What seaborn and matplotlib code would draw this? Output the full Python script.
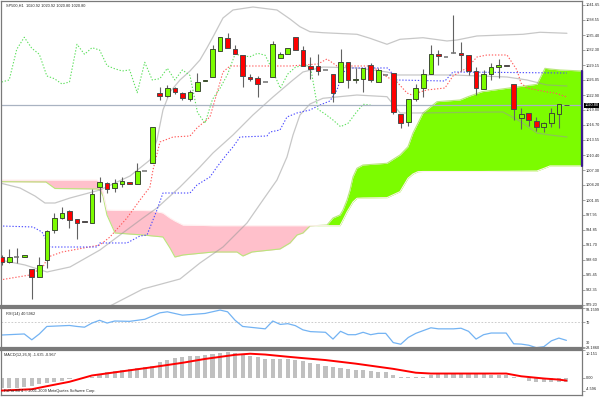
import numpy as np
import matplotlib
matplotlib.use("Agg")
import matplotlib.pyplot as plt
import matplotlib.transforms as mtrans
from matplotlib import font_manager
import seaborn as sns

# ---------------- data ----------------
opens = [989.26, 988.22, 989.13, 989.19, 986.63, 985.09, 988.57, 994.81, 997.25, 998.77,
         997.04, 996.69, 996.21, 1003.83, 1004.66, 1003.49, 1004.33, 1004.74, 1004.33, 1007.16,
         1008.82, 1023.27, 1022.77, 1024.31, 1023.39, 1022.08, 1023.69, 1025.77, 1026.60, 1032.14,
         1034.72, 1032.43, 1031.24, 1026.72, 1026.39, 1025.62, 1026.72, 1030.55, 1031.39, 1035.05,
         1032.28, 1028.95, 1028.95, 1028.12, 1027.29, 1025.56, 1029.72, 1026.04, 1026.18, 1029.10,
         1025.56, 1027.00, 1027.43, 1018.90, 1017.23, 1022.02, 1024.31, 1027.22, 1031.45, 1030.89,
         1031.60, 1031.72, 1031.24, 1027.97, 1024.10, 1027.29, 1028.68, 1029.16, 1025.14, 1018.07,
         1019.23, 1017.44, 1016.32, 1017.02, 1018.90, 1020.92]
highs = [989.61, 990.80, 991.00, 989.70, 986.63, 989.26, 994.81, 998.35, 999.54, 999.00,
         997.04, 996.70, 1003.29, 1005.78, 1004.80, 1005.43, 1005.78, 1004.80, 1008.70, 1007.16,
         1016.19, 1024.52, 1025.00, 1024.52, 1023.50, 1023.96, 1027.56, 1026.04, 1033.32, 1034.93,
         1035.88, 1033.32, 1031.24, 1027.29, 1026.87, 1025.62, 1034.16, 1031.93, 1032.76, 1035.05,
         1033.12, 1030.76, 1031.45, 1028.12, 1027.29, 1032.43, 1029.72, 1028.47, 1028.47, 1029.51,
         1028.50, 1027.00, 1027.43, 1018.90, 1022.02, 1025.21, 1028.27, 1033.32, 1032.28, 1030.89,
         1039.57, 1033.89, 1031.30, 1028.81, 1028.12, 1029.51, 1030.35, 1029.16, 1025.14, 1020.27,
         1019.23, 1018.40, 1017.36, 1020.15, 1020.98, 1020.92]
lows = [987.53, 988.01, 987.88, 989.10, 980.45, 985.00, 986.84, 994.19, 997.10, 995.17,
        992.94, 996.40, 996.21, 1000.70, 1002.58, 1002.79, 1003.83, 1004.30, 1004.33, 1007.16,
        1008.82, 1021.88, 1022.56, 1023.12, 1021.88, 1021.73, 1023.69, 1025.77, 1026.60, 1032.14,
        1032.64, 1031.39, 1024.64, 1025.83, 1022.44, 1025.62, 1026.72, 1030.55, 1031.39, 1032.28,
        1029.01, 1026.18, 1027.08, 1028.12, 1021.52, 1025.56, 1024.31, 1025.35, 1023.48, 1025.68,
        1025.56, 1027.00, 1018.96, 1016.11, 1016.46, 1021.67, 1022.56, 1027.22, 1029.16, 1030.89,
        1031.60, 1027.91, 1027.08, 1022.92, 1024.10, 1026.04, 1026.39, 1028.89, 1017.71, 1015.78,
        1016.46, 1015.42, 1015.28, 1016.19, 1015.98, 1020.80]
closes = [988.22, 989.13, 989.13, 989.61, 985.09, 987.53, 994.61, 997.25, 998.29, 996.90,
          996.21, 996.42, 1002.25, 1004.74, 1003.29, 1004.53, 1005.01, 1004.39, 1007.10, 1007.16,
          1016.19, 1022.77, 1024.31, 1023.48, 1022.35, 1023.48, 1025.62, 1026.04, 1032.43, 1034.93,
          1032.64, 1031.39, 1026.87, 1026.31, 1025.21, 1025.62, 1033.47, 1031.39, 1032.76, 1032.28,
          1029.01, 1028.39, 1027.91, 1028.12, 1023.39, 1029.72, 1026.04, 1026.31, 1028.47, 1026.04,
          1028.12, 1027.00, 1019.31, 1017.02, 1022.02, 1024.31, 1027.22, 1031.45, 1031.03, 1030.89,
          1031.60, 1031.18, 1027.97, 1024.31, 1027.29, 1028.68, 1029.10, 1028.89, 1019.94, 1018.90,
          1017.71, 1016.32, 1017.02, 1019.11, 1020.98, 1020.80]

# Bollinger bands (vertices: bar position, price)
bb_up_x = [-0.23, 2.43, 4.42, 5.75, 7.08, 9.07, 13.05, 17.04, 19.69, 20.62, 21.42, 22.35, 23.68,
           25.01, 26.33, 27.26, 28.06, 29.39, 30.72, 33.37, 36.56, 38.29, 39.61, 40.94, 42.67,
           47.18, 48.91, 51.17, 52.90, 55.95, 59.14, 60.46, 63.12, 66.57, 69.23, 71.49, 75.07]
bb_up_y = [1004.60, 1003.56, 1001.89, 1000.43, 1000.43, 1001.47, 1003.14, 1006.05, 1009.38,
           1013.55, 1019.79, 1023.54, 1026.04, 1027.91, 1030.20, 1032.70, 1034.99, 1038.94,
           1040.61, 1041.23, 1040.61, 1038.73, 1037.13, 1036.09, 1035.88, 1035.55, 1034.72,
           1033.47, 1034.51, 1034.84, 1034.16, 1034.36, 1035.20, 1035.40, 1035.55, 1035.97, 1035.76]
bb_mid_x = [-0.23, 3.09, 6.02, 9.07, 13.05, 15.71, 18.76, 20.62, 23.68, 26.33, 28.06, 30.72,
            33.37, 36.03, 38.69, 40.01, 42.67, 47.18, 51.17, 52.50, 59.93, 67.11, 69.76, 72.42, 75.07]
bb_mid_y = [988.57, 987.53, 986.07, 987.11, 990.65, 993.77, 997.31, 999.39, 1003.76, 1007.93,
            1010.84, 1014.59, 1018.75, 1022.50, 1026.04, 1027.70, 1028.74, 1028.54, 1027.70,
            1027.08, 1027.08, 1026.66, 1026.04, 1025.00, 1024.79]
bb_low_x = [14.38, 18.76, 23.68, 26.33, 29.39, 32.58, 34.70, 36.56, 37.89, 38.69, 39.61, 40.94,
            42.67, 47.18, 51.17, 51.96, 52.90, 55.15, 66.57, 69.23, 71.09, 72.82, 75.07]
bb_low_y = [978.99, 982.53, 984.61, 987.94, 991.27, 996.27, 1001.06, 1005.22, 1010.01, 1014.59,
            1018.75, 1021.04, 1022.23, 1022.91, 1022.56, 1021.04, 1019.17, 1019.17, 1019.38,
            1017.09, 1015.00, 1014.59, 1014.17]

# Ichimoku lines
tenkan_x = [-0.23, 3.76, 5.48, 6.15, 8.01, 13.05, 14.38, 16.64, 18.37, 19.69, 20.09, 21.02, 22.75,
            25.01, 25.94, 27.66, 28.59, 29.39, 30.32, 38.29, 42.00, 43.20, 44.53, 48.91, 49.97,
            51.17, 52.50, 53.83, 54.49, 55.55, 56.48, 58.87, 59.93, 61.79, 63.12, 64.45, 67.11,
            68.43, 68.96, 69.76, 72.42, 73.48, 75.07]
tenkan_y = [984.41, 985.45, 987.11, 989.19, 990.23, 991.69, 993.36, 997.31, 1001.06, 1003.76,
            1007.30, 1013.13, 1014.17, 1014.38, 1016.05, 1018.34, 1023.33, 1027.70, 1028.95,
            1028.95, 1029.37, 1030.41, 1028.95, 1028.95, 1028.12, 1026.66, 1025.62, 1023.33,
            1022.91, 1023.54, 1023.96, 1024.37, 1026.87, 1028.54, 1030.82, 1031.24, 1031.24,
            1028.12, 1025.41, 1024.37, 1023.54, 1023.33, 1022.50]
kijun_x = [-0.23, 4.16, 5.35, 6.41, 12.66, 13.05, 16.64, 18.37, 19.30, 20.62, 21.42, 25.01, 25.94,
           27.66, 28.59, 29.92, 30.72, 31.65, 35.23, 35.63, 36.96, 37.89, 39.22, 40.94, 42.27,
           43.60, 44.53, 45.33, 46.65, 51.30, 52.50, 58.87, 59.93, 75.07]
kijun_y = [995.65, 995.44, 994.40, 991.27, 991.27, 992.11, 992.11, 993.56, 993.77, 998.98,
           1002.51, 1002.51, 1004.18, 1005.85, 1007.93, 1010.63, 1012.09, 1014.17, 1014.38,
           1015.21, 1015.63, 1018.34, 1019.17, 1019.79, 1020.83, 1021.67, 1023.96, 1027.70,
           1028.54, 1028.54, 1026.04, 1025.83, 1027.70, 1027.49]
chikou_shift = 26

cloud_x = [-0.23, 5.88, 7.08, 12.66, 13.05, 13.45, 13.98, 15.05, 18.76, 20.09, 21.42, 22.35,
           23.01, 24.08, 28.06, 31.25, 32.04, 33.24, 36.96, 38.29, 39.22, 40.01, 40.94, 43.20,
           44.00, 44.93, 45.33, 45.86, 46.26, 46.65, 47.18, 47.98, 51.17, 52.90, 53.96, 54.62,
           55.29, 55.95, 57.81, 60.86, 61.93, 63.79, 67.11, 71.09, 72.15, 72.82, 74.15, 77.07]
span_a = [1004.87, 1004.80, 1003.45, 1003.35, 1003.14, 1001.89, 997.94, 994.19, 993.77, 993.56,
          993.36, 991.07, 989.19, 989.61, 990.23, 990.23, 989.40, 990.23, 990.86, 992.11,
          993.77, 994.19, 995.65, 995.85, 997.31, 997.94, 998.98, 1001.06, 1003.14, 1005.85,
          1007.66, 1008.34, 1008.70, 1010.43, 1012.15, 1015.00, 1017.09, 1019.17, 1021.52,
          1021.87, 1022.56, 1023.60, 1024.31, 1025.14, 1028.47, 1028.33, 1028.12, 1027.91]
span_b = [1005.22, 1005.22, 1005.22, 1005.22, 1004.80, 1002.72, 998.98, 998.91, 998.87, 998.83,
          998.35, 997.31, 996.69, 995.85, 995.71, 995.71, 995.71, 995.71, 995.71, 995.71,
          995.71, 995.71, 995.71, 995.71, 995.71, 995.71, 996.89, 998.56, 999.60, 1000.64,
          1001.41, 1001.47, 1001.54, 1002.79, 1005.58, 1006.47, 1006.95, 1006.99, 1006.99,
          1006.99, 1006.99, 1006.99, 1007.03, 1007.09, 1007.72, 1008.14, 1008.14, 1008.14]

# RSI(14)
rsi_x = [0, 3, 4, 5, 6, 9, 10, 11, 12, 13, 14, 15, 17, 19, 21, 22, 24, 27, 29, 30, 31, 32, 35,
         36, 37, 38, 39, 40, 41, 43, 44, 45, 46, 47, 48, 49, 50, 51, 52, 53, 54, 55, 57, 58, 60,
         61, 62, 63, 64, 65, 67, 68, 69, 70, 71, 72, 73, 74, 75]
rsi_y = [49.3, 51.0, 41.5, 51.0, 63.2, 64.8, 63.2, 62.0, 68.7, 73.2, 68.7, 72.0, 71.5, 74.8,
         85.3, 87.0, 81.5, 84.3, 89.8, 87.0, 73.2, 63.2, 59.3, 72.0, 66.5, 67.7, 64.5, 57.7,
         54.8, 53.7, 42.7, 55.3, 49.8, 49.8, 53.7, 49.8, 52.0, 52.0, 37.0, 34.3, 45.3, 52.0,
         61.0, 59.3, 59.3, 60.3, 55.3, 42.7, 49.8, 52.5, 52.5, 35.0, 34.5, 32.7, 28.7, 30.3,
         39.8, 44.3, 40.6]

# MACD(12,26,9)
macd_hist = [-3.65, -3.65, -3.65, -3.16, -2.92, -2.19, -1.95, -1.58, -0.97, -0.49,
             -0.12, -0.05, 0.49, 1.46, 2.31, 2.68, 3.04, 3.29, 3.53, 3.89,
             4.26, 5.96, 6.69, 7.30, 7.55, 7.91, 8.15, 8.40, 8.76, 9.13,
             9.25, 9.13, 8.76, 8.15, 7.55, 6.94, 6.94, 6.94, 6.94, 6.57,
             6.09, 5.60, 5.11, 4.50, 3.89, 3.65, 3.29, 2.92, 2.92, 2.43,
             2.31, 2.31, 1.22, 0.49, 0.24, 0.24, 0.49, 1.22, 1.46, 1.46,
             1.46, 1.70, 1.46, 1.46, 1.46, 1.22, 1.22, 1.22, 0.49, -0.10,
             -0.97, -1.34, -1.58, -1.58, -1.58, -1.635]
signal_x = [0, 4, 6, 9, 12, 16, 20, 24, 27, 31, 33, 35, 38, 40, 43, 47, 52, 55, 57, 60, 67, 69,
            72, 74, 75]
signal_y = [-4.596, -4.1, -3.0, -1.4, 0.9, 2.4, 3.9, 5.5, 6.9, 8.4, 8.8, 8.5, 7.7, 7.2, 6.5,
            5.2, 3.3, 1.9, 1.6, 1.6, 1.6, 0.6, -0.2, -0.6, -0.967]

price_ticks = [1041.65, 1038.55, 1035.40, 1032.30, 1029.15, 1026.05, 1022.90, 1019.80, 1016.70,
               1013.55, 1010.40, 1007.30, 1004.20, 1001.05, 997.95, 994.85, 991.70, 988.60,
               985.45, 982.35, 979.20]
price_labels = ["1041.65", "1038.55", "1035.40", "1032.30", "1029.15", "1026.05", "1022.90",
                "1019.80", "1016.70", "1013.55", "1010.40", "1007.30", "1004.20", "1001.05",
                "997.95", "994.85", "991.70", "988.60", "985.45", "982.35", "979.20"]
rsi_ticks = [93.1599, 70, 30, 28.186]
rsi_labels = ["93.1599", "70", "30", "28.1860"]
macd_ticks = [10.151, 0.0, -4.596]
macd_labels = ["10.151", "0.00", "-4.596"]

title_text = "SP500,H1  1020.92 1020.92 1020.80 1020.80"
rsi_text = "RSI(14) 40.5962"
macd_text = "MACD(12,26,9) -1.635 -0.967"
copy_text = "FxPro MT4 \u00a9 2001-2009 MetaQuotes Software Corp."
last_price = 1020.80
last_label = "1020.80"

# ---------------- drawing ----------------
sns.set_style("white")


def pick_font():
    for fam, size in (("Liberation Sans Narrow", 3.2), ("Liberation Sans", 2.8)):
        try:
            font_manager.findfont(font_manager.FontProperties(family=fam),
                                  fallback_to_default=False)
            return fam, size
        except Exception:
            continue
    return "DejaVu Sans", 2.5


FAM, FS = pick_font()
plt.rcParams['font.family'] = [FAM, 'DejaVu Sans']

W, H = 600, 397
fig = plt.figure(figsize=(6, 3.97), dpi=100)
fig.patch.set_facecolor('white')


def rect(l, t, r, b):
    return [l / W, 1 - b / H, (r - l) / W, (b - t) / H]


ax = fig.add_axes(rect(1, 1, 582, 306))
ax_rsi = fig.add_axes(rect(1, 308, 582, 348))
ax_macd = fig.add_axes(rect(1, 350, 582, 395))

n = len(closes)
idx = np.arange(n)
o = np.array(opens); h = np.array(highs); l = np.array(lows); c = np.array(closes)
XMIN, XMAX = -0.09, 77.07

# cloud
cx = np.array(cloud_x); sa = np.array(span_a); sb = np.array(span_b)
ax.fill_between(cx, sa, sb, where=sa >= sb, interpolate=True, color='#7cfc00', lw=0, zorder=1)
ax.fill_between(cx, sa, sb, where=sa < sb, interpolate=True, color='#ffc0cb', lw=0, zorder=1)
sns.lineplot(x=cx, y=sa, ax=ax, color='#b9e67c', lw=0.8, zorder=1.5)
sns.lineplot(x=cx, y=sb, ax=ax, color='#fff0f0', lw=0.8, zorder=1.5)

# Bollinger bands
for bx, by in ((bb_up_x, bb_up_y), (bb_mid_x, bb_mid_y), (bb_low_x, bb_low_y)):
    sns.lineplot(x=bx, y=by, ax=ax, color='#9a9a9a', alpha=0.55, lw=0.9, zorder=2)

# Ichimoku lines
dot = (0, (1.2, 1.6))
sns.lineplot(x=tenkan_x, y=tenkan_y, ax=ax, color='#ff5a5a', lw=0.8, linestyle=dot, zorder=2.2)
sns.lineplot(x=kijun_x, y=kijun_y, ax=ax, color='#4a4aff', lw=0.8, linestyle=dot, zorder=2.2)
sns.lineplot(x=idx[:n - chikou_shift], y=c[chikou_shift:], ax=ax, color='#5ee05e', lw=0.8,
             linestyle=dot, zorder=2.2)

# current price line
ax.axhline(last_price, color='#a9b3c2', lw=0.9, zorder=2.4)

# candles
ax.vlines(idx, l, h, color='#626262', lw=0.8, zorder=3)
bw = 0.62
up = c > o
dn = c < o
eq = c == o
ax.bar(idx[up], (c - o)[up], bottom=o[up], width=bw, color='#7cfc00', edgecolor='#3d4d30',
       linewidth=0.7, zorder=4)
ax.bar(idx[dn], (o - c)[dn], bottom=c[dn], width=bw, color='#ff0000', edgecolor='#4d4d4d',
       linewidth=0.7, zorder=4)
ax.hlines(c[eq], idx[eq] - bw / 2, idx[eq] + bw / 2, color='#707070', lw=1.1, zorder=4)

ax.set_xlim(XMIN, XMAX)
ax.set_ylim(978.99, 1042.48)
ax.set_xticks([])
ax.yaxis.tick_right()
ax.set_yticks(price_ticks)
ax.set_yticklabels(price_labels)
ax.tick_params(axis='y', labelsize=FS, length=2, width=0.5, color='#808080', pad=0.8)
ax.text(0.009, 0.992, title_text, transform=ax.transAxes, fontsize=FS, va='top', ha='left')

# cloud edge marker at right border
ax.plot([XMAX, XMAX], [span_b[-1], span_a[-1]], color='#3b1a8c', lw=1.6, clip_on=False,
        zorder=6)

# last price box
tr = mtrans.blended_transform_factory(ax.transAxes, ax.transData)
ax.text(1.005, last_price, last_label, transform=tr, fontsize=FS, color='white', va='center',
        ha='left', clip_on=False, zorder=10,
        bbox=dict(facecolor='black', edgecolor='none', pad=0.4))

# RSI panel
ax_rsi.axhline(70, color='#c4c4c4', lw=0.6, linestyle=(0, (2, 2)))
ax_rsi.axhline(30, color='#c4c4c4', lw=0.6, linestyle=(0, (2, 2)))
sns.lineplot(x=rsi_x, y=rsi_y, ax=ax_rsi, color='#73b3f3', lw=0.9)
ax_rsi.set_xlim(XMIN, XMAX)
ax_rsi.set_ylim(28.186, 93.1599)
ax_rsi.set_xticks([])
ax_rsi.yaxis.tick_right()
ax_rsi.set_yticks(rsi_ticks)
ax_rsi.set_yticklabels(rsi_labels)
ax_rsi.tick_params(axis='y', labelsize=FS, length=2, width=0.5, color='#808080', pad=0.8)
up1 = mtrans.ScaledTranslation(0, 1.2 / 72, fig.dpi_scale_trans)
rl = ax_rsi.get_yticklabels()
rl[0].set_va('top')
rl[2].set_va('bottom')
rl[2].set_transform(rl[2].get_transform() + up1)
rl[3].set_va('center')
ax_rsi.text(0.009, 0.90, rsi_text, transform=ax_rsi.transAxes, fontsize=FS, va='top', ha='left')

# MACD panel
ax_macd.bar(idx, macd_hist, width=0.55, color='#c0c0c0', lw=0, zorder=2)
sns.lineplot(x=signal_x, y=signal_y, ax=ax_macd, color='#ff0000', lw=1.4, zorder=3)
ax_macd.set_xlim(XMIN, XMAX)
ax_macd.set_ylim(-6.2, 10.151)
ax_macd.set_xticks(np.arange(4, 77, 4))
ax_macd.set_xticklabels([])
ax_macd.tick_params(axis='x', length=2, width=0.6, color='#606060', direction='out', pad=0)
ax_macd.yaxis.tick_right()
ax_macd.set_yticks(macd_ticks)
ax_macd.set_yticklabels(macd_labels)
ax_macd.tick_params(axis='y', labelsize=FS, length=2, width=0.5, color='#808080', pad=0.8)
down1 = mtrans.ScaledTranslation(0, -1.2 / 72, fig.dpi_scale_trans)
ml = ax_macd.get_yticklabels()
ml[0].set_va('top')
ml[0].set_transform(ml[0].get_transform() + down1)
ml[2].set_va('bottom')
ax_macd.text(0.006, 0.93, macd_text, transform=ax_macd.transAxes, fontsize=FS, va='top', ha='left')
ax_macd.text(0.006, 0.04, copy_text, transform=ax_macd.transAxes, fontsize=FS, va='bottom',
             ha='left', color='#202020')

for a in (ax, ax_rsi, ax_macd):
    a.set_xlabel('')
    a.set_ylabel('')
    a.set_facecolor('white')
    for s in a.spines.values():
        s.set_color('#7a7a7a')
        s.set_linewidth(0.9)
ax.spines['bottom'].set_linewidth(1.6)
ax_rsi.spines['top'].set_linewidth(1.6)
ax_rsi.spines['bottom'].set_linewidth(1.6)
ax_macd.spines['top'].set_linewidth(1.6)

fig.savefig('out.png', dpi=100)
